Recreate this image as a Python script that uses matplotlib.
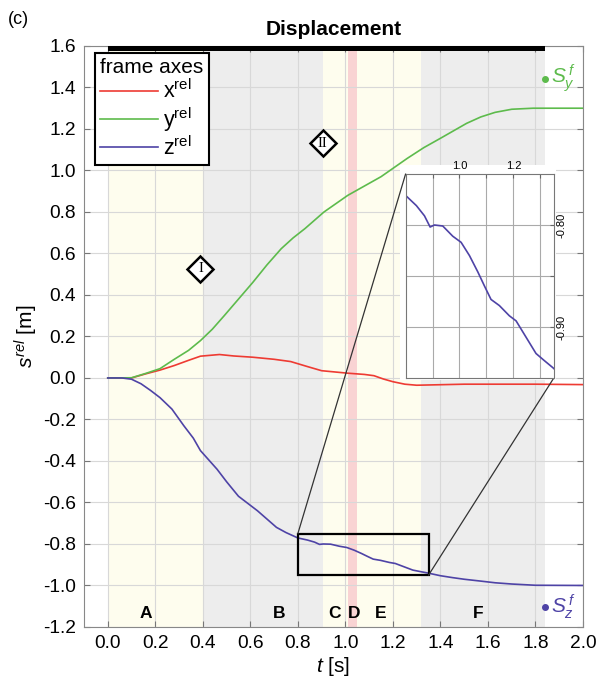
import matplotlib
matplotlib.use("Agg")
import matplotlib.pyplot as plt
from matplotlib.patches import Rectangle, ConnectionPatch
from matplotlib.ticker import FormatStrFormatter

plt.rcParams['font.family'] = ['Liberation Sans', 'DejaVu Sans']
plt.rcParams['mathtext.fontset'] = 'custom'
plt.rcParams['mathtext.rm'] = 'Liberation Sans'
plt.rcParams['mathtext.it'] = 'Liberation Sans:italic'
plt.rcParams['mathtext.bf'] = 'Liberation Sans:bold'
plt.rcParams['axes.unicode_minus'] = False

# relative displacement of the frame axes
t_x = [0.0, 0.1, 0.16, 0.22, 0.28, 0.34, 0.39, 0.47, 0.53, 0.61, 0.7, 0.77, 0.84, 0.9, 1.01,
       1.08, 1.12, 1.16, 1.2, 1.25, 1.3, 1.5, 1.8, 2.0]
x_rel = [0.0, 0.0, 0.02, 0.038, 0.06, 0.085, 0.105, 0.113, 0.106, 0.1, 0.09, 0.079, 0.055, 0.035,
         0.023, 0.017, 0.011, -0.005, -0.018, -0.03, -0.035, -0.03, -0.03, -0.032]

t_y = [0.0, 0.1, 0.16, 0.22, 0.28, 0.34, 0.39, 0.44, 0.49, 0.55, 0.61, 0.67, 0.73, 0.78, 0.83,
       0.91, 1.01, 1.08, 1.15, 1.26, 1.33, 1.4, 1.51, 1.57, 1.63, 1.7, 1.79, 2.0]
y_rel = [0.0, 0.001, 0.022, 0.045, 0.09, 0.133, 0.18, 0.235, 0.30, 0.38, 0.46, 0.545, 0.623, 0.675,
         0.72, 0.80, 0.88, 0.925, 0.97, 1.058, 1.11, 1.155, 1.227, 1.258, 1.28, 1.295, 1.30, 1.30]

t_z = [0.0, 0.06, 0.1, 0.14, 0.18, 0.22, 0.27, 0.32, 0.36, 0.39, 0.46, 0.5, 0.55, 0.63, 0.67, 0.71,
       0.75, 0.8, 0.84, 0.87, 0.891, 0.907, 0.938, 0.975, 1.006, 1.037, 1.068, 1.093, 1.117, 1.148,
       1.185, 1.21, 1.247, 1.284, 1.315, 1.347, 1.4, 1.45, 1.5, 1.57, 1.63, 1.7, 1.8, 2.0]
z_rel = [0.0, 0.0, -0.006, -0.028, -0.06, -0.095, -0.15, -0.23, -0.29, -0.35, -0.44, -0.5, -0.57,
         -0.64, -0.68, -0.72, -0.745, -0.771, -0.781, -0.791, -0.802, -0.800, -0.801, -0.811, -0.817,
         -0.830, -0.846, -0.860, -0.873, -0.879, -0.889, -0.894, -0.910, -0.926, -0.933, -0.940,
         -0.953, -0.962, -0.970, -0.979, -0.987, -0.993, -0.999, -1.0]

# motion phases
phase_start = [0.0, 0.4, 0.905, 1.013, 1.047, 1.317]
phase_end = [0.4, 0.905, 1.013, 1.047, 1.317, 1.84]
phase_colors = ['#FEFDEE', '#EDEDED', '#FEFDEE', '#F9D3D3', '#FEFDEE', '#EDEDED']
phase_names = ['A', 'B', 'C', 'D', 'E', 'F']
phase_label_t = [0.16, 0.72, 0.955, 1.035, 1.15, 1.56]

red = '#EE3B33'
green = '#5DBB4C'
blue = '#4E43A6'

fig = plt.figure(figsize=(6, 6.88), dpi=100)
ax = fig.add_axes([0.14, 0.0887, 0.8317, 0.8445])

for t0, t1, c in zip(phase_start, phase_end, phase_colors):
    ax.axvspan(t0, t1, color=c, lw=0, zorder=0)
for name, tl in zip(phase_names, phase_label_t):
    ax.text(tl, -1.135, name, ha='center', va='center', fontsize=12.5, fontweight='bold', zorder=5)

ax.plot(t_x, x_rel, color=red, lw=1.2, label=r'x$^{\mathrm{rel}}$', zorder=3)
ax.plot(t_y, y_rel, color=green, lw=1.2, label=r'y$^{\mathrm{rel}}$', zorder=3)
ax.plot(t_z, z_rel, color=blue, lw=1.2, label=r'z$^{\mathrm{rel}}$', zorder=3)

# black bar along the top
ax.add_patch(Rectangle((0.0, 0.991), 1.84, 0.009, transform=ax.get_xaxis_transform(),
                       color='black', lw=0, zorder=6, clip_on=False))

# final positions
ax.plot(1.84, 1.44, 'o', color=green, ms=4, zorder=5)
ax.text(1.865, 1.445, r'$S_y^{\,f}$', color=green, fontsize=15, va='center', zorder=5)
ax.plot(1.84, -1.105, 'o', color=blue, ms=4, zorder=5)
ax.text(1.865, -1.10, r'$S_z^{\,f}$', color=blue, fontsize=15, va='center', zorder=5)

# diamond markers
for tm, vm, s in [(0.39, 0.527, 'I'), (0.905, 1.13, 'II')]:
    ax.plot(tm, vm, marker='D', ms=13.5, mfc='white', mec='black', mew=1.8, zorder=5)
    ax.text(tm, vm, s, ha='center', va='center', fontsize=10.5, family='Liberation Serif', zorder=6)

# zoom rectangle
ax.add_patch(Rectangle((0.8, -0.95), 0.55, 0.2, fill=False, ec='black', lw=1.6, zorder=4))

ax.set_xlim(-0.1, 2.0)
ax.set_ylim(-1.2, 1.6)
ax.set_xticks([i * 0.2 for i in range(11)])
ax.set_yticks([-1.2 + i * 0.2 for i in range(15)])
ax.xaxis.set_major_formatter(FormatStrFormatter('%.1f'))
ax.yaxis.set_major_formatter(FormatStrFormatter('%.1f'))
ax.set_axisbelow(True)
ax.grid(True, color='#D8D8D8', lw=0.8)
ax.tick_params(direction='in', length=4, color='#777777', labelsize=13.8,
               top=True, right=True, pad=6)
for sp in ax.spines.values():
    sp.set_color('#888888')

ax.set_xlabel(r'$t$ [s]', fontsize=15, labelpad=2)
ax.set_ylabel(r'$s^{rel}$ [m]', fontsize=15, labelpad=2)
ax.set_title('Displacement', fontsize=15, fontweight='bold', pad=8)

leg = ax.legend(title='frame axes', loc='upper left', bbox_to_anchor=(0.022, 0.988),
                borderaxespad=0, fontsize=15.5, title_fontsize=15, handlelength=2.7,
                handletextpad=0.2, labelspacing=0.1, fancybox=False, framealpha=1,
                edgecolor='black', borderpad=0.25)
leg.get_frame().set_linewidth(1.5)
leg._legend_box.align = 'left'
leg.set_zorder(7)

fig.text(0.013, 0.971, '(c)', fontsize=13, va='center')

# white backing behind the inset
fig.add_artist(Rectangle((0.6667, 0.4477), 0.26, 0.3125, transform=fig.transFigure,
                         color='white', lw=0, zorder=1))

axins = fig.add_axes([0.676, 0.4506, 0.247, 0.2965], zorder=3)
axins.plot(t_z, z_rel, color=blue, lw=1.2)
axins.set_xlim(0.8, 1.35)
axins.set_ylim(-0.95, -0.75)
axins.set_xticks([0.9, 1.0, 1.1, 1.2, 1.3])
axins.set_xticklabels(['', '1.0', '', '1.2', ''])
axins.set_yticks([-0.9, -0.85, -0.8])
axins.set_yticklabels(['-0.90', '', '-0.80'], rotation=90, va='center')
axins.xaxis.tick_top()
axins.yaxis.tick_right()
axins.tick_params(direction='in', length=3, color='#666666', labelsize=8, pad=2)
axins.grid(True, color='#AAAAAA', lw=0.8)
for sp in axins.spines.values():
    sp.set_color('#777777')

for xa, xb in [((0.8, -0.75), (0, 1)), ((1.35, -0.95), (1, 0))]:
    con = ConnectionPatch(xyA=xa, coordsA=ax.transData, xyB=xb, coordsB=axins.transAxes,
                          color='#333333', lw=0.9, zorder=2)
    fig.add_artist(con)

fig.savefig('out.png', dpi=100)
